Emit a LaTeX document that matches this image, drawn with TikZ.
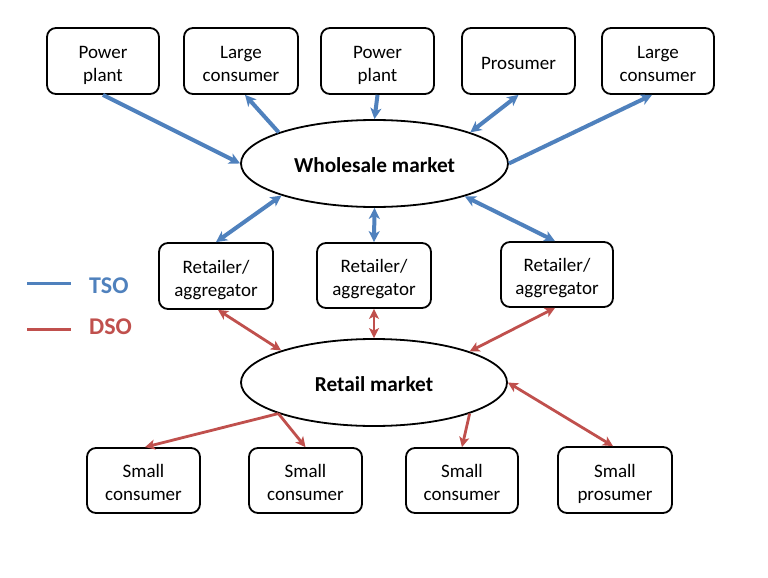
\documentclass[tikz,border=0pt]{standalone}
\usepackage{fontspec}
\setmainfont{Carlito}
\usetikzlibrary{arrows.meta,shapes.geometric}
\definecolor{tsoblue}{RGB}{79,129,189}
\definecolor{dsored}{RGB}{192,80,77}
\newcommand{\boxtext}[1]{\raisebox{-4pt}[\height][\depth]{\begin{tabular}{@{}c@{}}#1\end{tabular}}}
\begin{document}
\begin{tikzpicture}[x=1pt,y=-1pt,
  box/.style={draw=black,line width=1.8pt,rounded corners=9pt,minimum width=113pt,minimum height=66pt,
    align=center,font=\fontsize{19}{23}\selectfont,inner sep=0pt},
  market/.style={draw=black,line width=1.8pt,ellipse,inner sep=0pt,font=\fontsize{21.3}{25}\selectfont\bfseries},
  tso/.style={draw=tsoblue,line width=4pt},
  dso/.style={draw=dsored,line width=2.8pt},
  tarr/.style={-{Stealth[length=11pt,width=11pt,inset=3pt]}},
  tboth/.style={{Stealth[length=11pt,width=11pt,inset=3pt]}-{Stealth[length=11pt,width=11pt,inset=3pt]}},
  darr/.style={-{Stealth[length=10pt,width=10pt,inset=2.5pt]}},
  dboth/.style={{Stealth[length=10pt,width=10pt,inset=2.5pt]}-{Stealth[length=10pt,width=10pt,inset=2.5pt]}},
  legtext/.style={font=\fontsize{24}{28}\selectfont\bfseries,inner sep=0pt}
]
\useasboundingbox (0,0) rectangle (768,578);
\fill[white] (0,0) rectangle (768,578);

% top row
\node[box,minimum width=112pt] (pp1) at (103,61) {\boxtext{Power\\plant}};
\node[box,minimum width=114pt] (lc1) at (241,61) {\boxtext{Large\\consumer}};
\node[box] (pp2) at (377.5,61) {\boxtext{Power\\plant}};
\node[box] (pros) at (518.5,61) {\boxtext{Prosumer}};
\node[box,minimum width=112pt] (lc2) at (658,61) {\boxtext{Large\\consumer}};

% markets
\node[market,minimum width=267pt,minimum height=87pt] (ws) at (374.5,163.5) {\boxtext{Wholesale market}};
\node[market,minimum width=266pt,minimum height=87pt] (rm) at (374,382.5) {\boxtext{Retail market}};

% retailers
\node[box,minimum width=114pt] (r1) at (216,276) {\boxtext{Retailer/\\aggregator}};
\node[box,minimum width=114pt,minimum height=65pt] (r2) at (374,275.5) {\boxtext{Retailer/\\aggregator}};
\node[box,minimum width=112pt,minimum height=65pt] (r3) at (557,274.5) {\boxtext{Retailer/\\aggregator}};

% small
\node[box,minimum height=65pt] (s1) at (143.5,480.5) {\boxtext{Small\\consumer}};
\node[box,minimum height=65pt] (s2) at (305.5,480.5) {\boxtext{Small\\consumer}};
\node[box,minimum width=112pt,minimum height=65pt] (s3) at (462,480.5) {\boxtext{Small\\consumer}};
\node[box,minimum width=114pt] (s4) at (615,480) {\boxtext{Small\\prosumer}};

% TSO connectors
\draw[tso,tarr] (pp1.south) -- (ws.180);
\draw[tso,tarr] (ws.162) -- ([xshift=4pt]lc1.south);
\draw[tso,tarr] (pp2.south) -- (ws.90);
\draw[tso,tboth] (pros.south) -- (ws.18);
\draw[tso,tarr] (ws.0) -- ([xshift=-6pt]lc2.south);
\draw[tso,tboth] (ws.199.5) -- (r1.north);
\draw[tso,tboth] (ws.270) -- (r2.north);
\draw[tso,tboth] (ws.340) -- ([xshift=-2pt]r3.north);

% DSO connectors
\draw[dso,dboth] ([xshift=2pt]r1.south) -- (rm.161.5);
\draw[dso,dboth] (r2.south) -- (rm.90);
\draw[dso,dboth] ([xshift=-2pt]r3.south) -- (rm.18);
\draw[dso,darr] (rm.198) -- ([xshift=1.5pt]s1.north);
\draw[dso,darr] (rm.198) -- (s2.north);
\draw[dso,darr] (rm.342) -- (s3.north);
\draw[dso,dboth] (rm.0) -- ([xshift=-2pt]s4.north);

% legend
\coordinate (ta) at (27,283);
\coordinate (tb) at (71,283);
\coordinate (da) at (27,329);
\coordinate (db) at (71,329);
\draw[draw=tsoblue,line width=3pt] (ta) -- (tb);
\draw[draw=dsored,line width=3pt] (da) -- (db);
\node[legtext,text=tsoblue,anchor=west] (tso) at (89,286) {TSO};
\node[legtext,text=dsored,anchor=west] (dso) at (89,327) {DSO};
\end{tikzpicture}
\end{document}
